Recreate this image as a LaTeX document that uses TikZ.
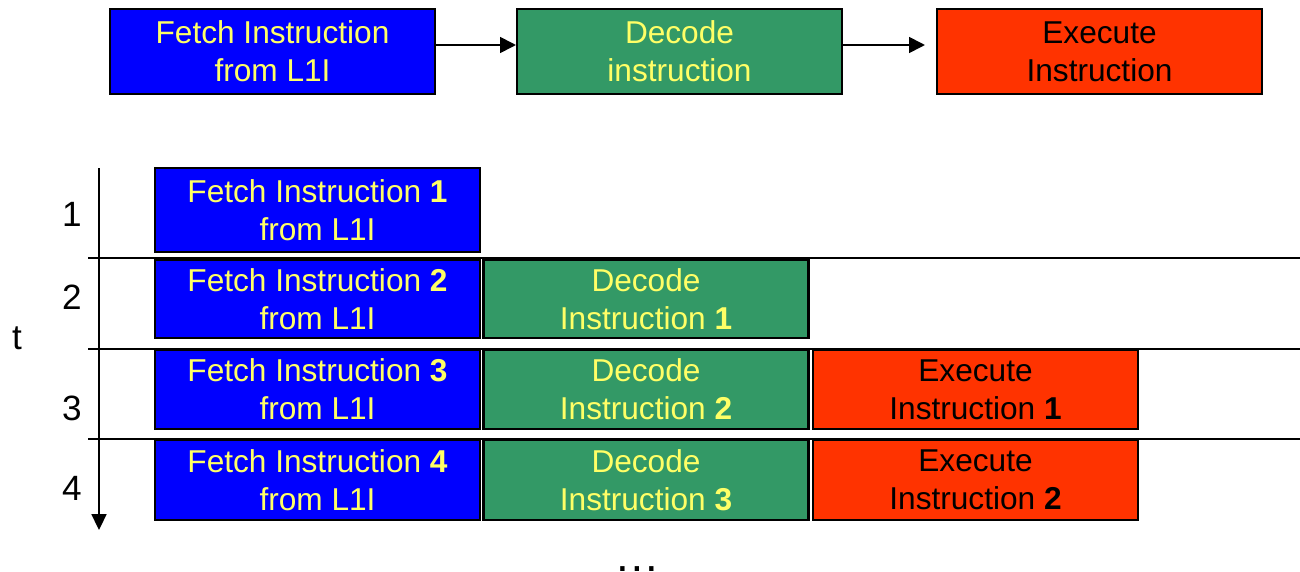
\documentclass[tikz,border=0pt]{standalone}
\usepackage{fontspec}
\setmainfont{Liberation Sans}
\usetikzlibrary{arrows.meta}
\definecolor{fetchblue}{HTML}{0000FF}
\definecolor{decodegreen}{HTML}{339966}
\definecolor{execred}{HTML}{FF3300}
\definecolor{labelyellow}{HTML}{FFFF66}
\begin{document}
\begin{tikzpicture}[x=0.02cm,y=-0.02cm,
  stage/.style={draw=black,line width=1.2pt,inner sep=0pt,minimum width=6.5cm,
    align=center,font=\fontsize{18}{21.5}\selectfont},
  fetchbox/.style={stage,fill=fetchblue,text=labelyellow},
  decodebox/.style={stage,fill=decodegreen,text=labelyellow},
  execbox/.style={stage,fill=execred,text=black},
  rowline/.style={line width=1pt},
  steplabel/.style={font=\fontsize{20}{24}\selectfont,inner sep=0pt},
  flow/.style={line width=1pt,-{Triangle[length=9pt,width=9pt]}}]
\useasboundingbox (0,0) rectangle (1300,571);

% stages of one instruction
\node[fetchbox,minimum height=1.7cm] (f) at (272.5,51.5) {Fetch Instruction\\from L1I};
\node[decodebox,minimum height=1.7cm] (d) at (679.5,51.5) {Decode\\instruction};
\node[execbox,minimum height=1.7cm] (e) at (1099.5,51.5) {Execute\\Instruction};
\draw[flow] ([yshift=0.13cm]f.east) -- ([yshift=0.13cm]d.west);
\draw[flow] ([yshift=0.13cm]d.east) -- ([yshift=0.13cm,xshift=-0.22cm]e.west);

% separators between clock cycles
\coordinate (s1a) at (88,258); \coordinate (s1b) at (1300,258);
\coordinate (s2a) at (88,349); \coordinate (s2b) at (1300,349);
\coordinate (s3a) at (88,439); \coordinate (s3b) at (1300,439);
\draw[rowline] (s1a) -- (s1b);
\draw[rowline] (s2a) -- (s2b);
\draw[rowline] (s3a) -- (s3b);

% time axis
\coordinate (ttop) at (99,168);
\coordinate (tbot) at (99,530);
\draw[line width=1pt,-{Triangle[length=9pt,width=8.5pt]}] (ttop) -- (tbot);
\node[steplabel] (t) at (17,338) {t};
\node[steplabel] (n1) at (72,214) {1};
\node[steplabel] (n2) at (72,297) {2};
\node[steplabel] (n3) at (72,408) {3};
\node[steplabel] (n4) at (72,488) {4};

% cycle 1
\node[fetchbox,minimum height=1.68cm] (f1) at (317.5,210) {Fetch Instruction \textbf{1}\\from L1I};
% cycle 2
\node[fetchbox,minimum height=1.56cm] (f2) at (317.5,299) {Fetch Instruction \textbf{2}\\from L1I};
\node[decodebox,minimum height=1.56cm] (d1) at (646,299) {Decode\\Instruction \textbf{1}};
% cycle 3
\node[fetchbox,minimum height=1.58cm] (f3) at (317.5,389.5) {Fetch Instruction \textbf{3}\\from L1I};
\node[decodebox,minimum height=1.58cm] (d2) at (646,389.5) {Decode\\Instruction \textbf{2}};
\node[execbox,minimum height=1.58cm] (e1) at (975.5,389.5) {Execute\\Instruction \textbf{1}};
% cycle 4
\node[fetchbox,minimum height=1.6cm] (f4) at (317.5,480) {Fetch Instruction \textbf{4}\\from L1I};
\node[decodebox,minimum height=1.6cm] (d3) at (646,480) {Decode\\Instruction \textbf{3}};
\node[execbox,minimum height=1.6cm] (e2) at (975.5,480) {Execute\\Instruction \textbf{2}};

\node[inner sep=0pt,anchor=base,font=\fontsize{26}{30}\selectfont] (more) at (637,571) {…};
\end{tikzpicture}
\end{document}
